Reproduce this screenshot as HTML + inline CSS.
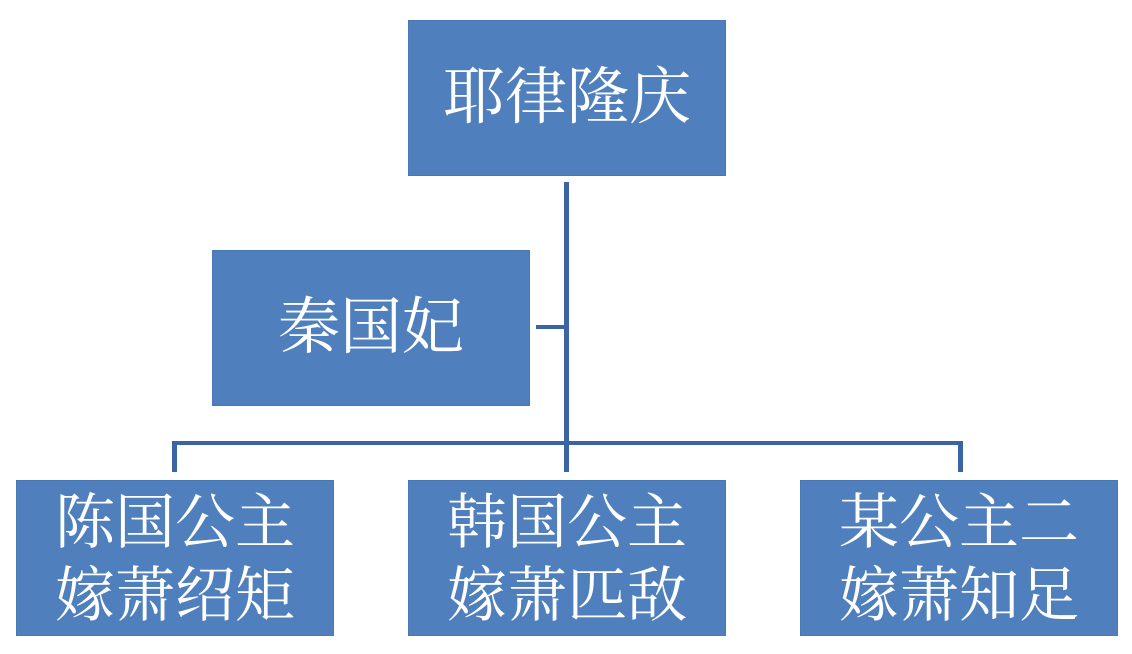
<!DOCTYPE html>
<html><head><meta charset="utf-8"><style>
body{margin:0;width:1132px;height:654px;background:#fff;position:relative;overflow:hidden;font-family:"Liberation Serif","Noto Serif CJK SC",serif}
.b{position:absolute;background:#4f7fbd;color:#fff;display:flex;align-items:center;justify-content:center;text-align:center;font-size:60px;line-height:73px;border:1px solid #4a78b4;box-sizing:border-box}
.l{position:absolute;background:#3b64a5}
</style></head><body>
<div class="b" style="left:408px;top:20px;width:318px;height:156px;font-size:62px">耶律隆庆</div>
<div class="b" style="left:212px;top:250px;width:318px;height:156px;font-size:62px">秦国妃</div>
<div class="b" style="left:16px;top:480px;width:318px;height:156px;padding-top:4px">陈国公主<br>嫁萧绍矩</div>
<div class="b" style="left:408px;top:480px;width:318px;height:156px;padding-top:4px">韩国公主<br>嫁萧匹敌</div>
<div class="b" style="left:800px;top:480px;width:318px;height:156px;padding-top:4px">某公主二<br>嫁萧知足</div>
<div class="l" style="left:564px;top:182px;width:5px;height:290px"></div>
<div class="l" style="left:536px;top:325px;width:30px;height:4px"></div>
<div class="l" style="left:172px;top:441px;width:791px;height:4px"></div>
<div class="l" style="left:172px;top:441px;width:5px;height:31px"></div>
<div class="l" style="left:958px;top:441px;width:5px;height:31px"></div>
</body></html>
